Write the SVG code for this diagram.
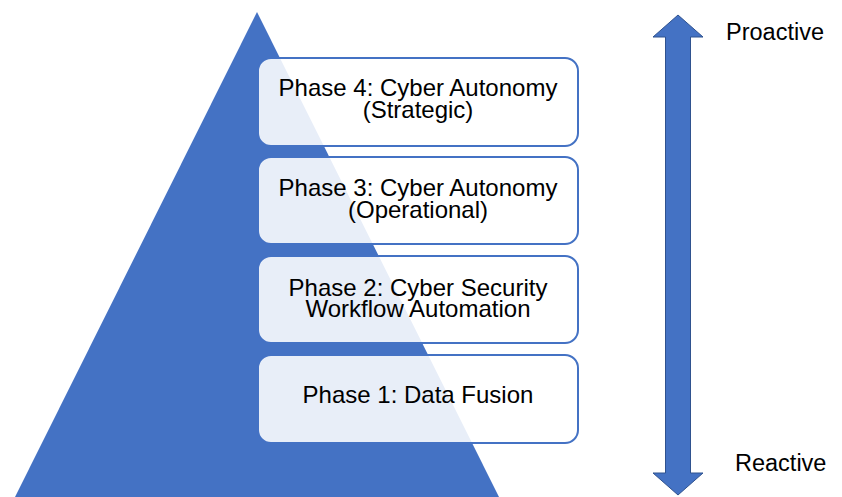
<svg xmlns="http://www.w3.org/2000/svg" width="842" height="497" viewBox="0 0 842 497">
<style>
.box{fill:#ffffff;fill-opacity:0.88;stroke:#4472C4;stroke-width:2}
.t{font-family:"Liberation Sans",Arial,sans-serif;font-size:24px;fill:#000;text-anchor:middle}
.s{font-family:"Liberation Sans",Arial,sans-serif;font-size:23.5px;fill:#000}
</style>
<rect width="842" height="497" fill="#ffffff"/>
<g id="pyramid">
<polygon points="257,12 499,497 15,497" fill="#4472C4"/>
</g>
<g id="phase4">
<rect class="box" x="258" y="58" width="320" height="88" rx="13"/>
<text class="t" x="418" y="96"><tspan x="418">Phase 4: Cyber Autonomy</tspan><tspan x="418" dy="21.5">(Strategic)</tspan></text>
</g>
<g id="phase3">
<rect class="box" x="258" y="157" width="320" height="87" rx="13"/>
<text class="t" x="418" y="196"><tspan x="418">Phase 3: Cyber Autonomy</tspan><tspan x="418" dy="21.5">(Operational)</tspan></text>
</g>
<g id="phase2">
<rect class="box" x="258" y="256" width="320" height="87" rx="13"/>
<text class="t" x="418" y="295.5"><tspan x="418">Phase 2: Cyber Security</tspan><tspan x="418" dy="21.5">Workflow Automation</tspan></text>
</g>
<g id="phase1">
<rect class="box" x="258" y="355" width="320" height="88" rx="13"/>
<text class="t" x="418" y="402.5">Phase 1: Data Fusion</text>
</g>
<g id="connectors">
<polygon points="678,15 703,37 690.5,37 690.5,473 703,473 678,495 653,473 665.5,473 665.5,37 653,37" fill="#4472C4" stroke="#2F528F" stroke-width="1"/>
</g>
<g id="labels">
<text class="s" x="726" y="39.5">Proactive</text>
<text class="s" x="735" y="471">Reactive</text>
</g>
</svg>
